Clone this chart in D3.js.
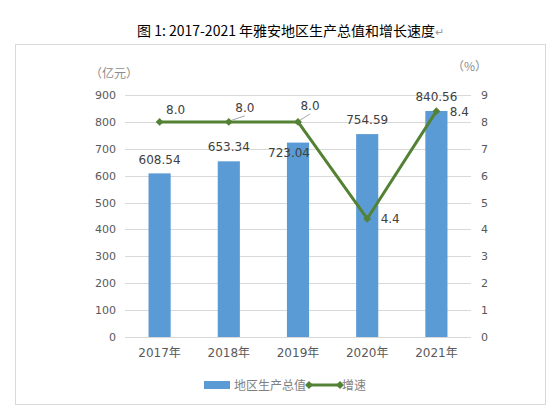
<!DOCTYPE html>
<html>
<head>
<meta charset="utf-8">
<script src="https://cdn.jsdelivr.net/npm/d3@7"></script>
<style>
  body { margin: 0; background: #fff; }
  text { font-family: "DejaVu Sans", "Noto Sans CJK SC", sans-serif; }
</style>
</head>
<body>
<div id="chart-area"></div>
<script>
const years = ["2017年", "2018年", "2019年", "2020年", "2021年"]
const gdp = [608.54, 653.34, 723.04, 754.59, 840.56]
const growth = [8.0, 8.0, 8.0, 4.4, 8.4]
const leftTicks = [0, 100, 200, 300, 400, 500, 600, 700, 800, 900]
const rightTicks = [0, 1, 2, 3, 4, 5, 6, 7, 8, 9]

// label nudges, px (dx, dy from the mark)
const barLabelOffsets = [[0, -9], [0, -10], [-9, 14], [0, -10], [0, -10]]
const lineLabelOffsets = [[16, -8], [16, -10], [12, -12], [23, 4.5], [23, 5]]
const leaderLines = [false, true, true, false, false]

const totalWidth = 557
const totalHeight = 408
const PLOT = {LEFT: 125, RIGHT: 471, TOP: 95, BOTTOM: 337}

const TEXT = "#595959"
const GRID = "#d9d9d9"
const BAR = "#5b9bd5"
const LINE = "#548235"

const svg = d3.select("#chart-area")
    .append("svg")
    .attr("width", totalWidth)
    .attr("height", totalHeight)

// outer frame
svg.append("rect")
    .attr("x", 15.5)
    .attr("y", 44.5)
    .attr("width", 530)
    .attr("height", 360)
    .attr("fill", "none")
    .attr("stroke", GRID)

// title
const title = svg.append("text")
    .attr("x", 137)
    .attr("y", 36)
    .attr("font-size", "14px")
    .attr("fill", "#000")
    .style("font-family", "'Noto Sans CJK SC', sans-serif")
title.append("tspan").text("图 1: 2017-2021 年雅安地区生产总值和增长速度")
title.append("tspan").attr("fill", "#999").attr("font-size", "11px").text("↵")

const xScale = d3.scaleBand()
    .domain(years)
    .range([PLOT.LEFT, PLOT.RIGHT])
    .paddingInner(0.68)
    .paddingOuter(0.34)

const yLeft = d3.scaleLinear()
    .domain([0, 900])
    .range([PLOT.BOTTOM, PLOT.TOP])

const yRight = d3.scaleLinear()
    .domain([0, 9])
    .range([PLOT.BOTTOM, PLOT.TOP])

// gridlines
svg.append("g")
    .selectAll("line")
    .data(leftTicks)
    .join("line")
    .attr("x1", PLOT.LEFT)
    .attr("x2", PLOT.RIGHT)
    .attr("y1", d => Math.round(yLeft(d)) + 0.5)
    .attr("y2", d => Math.round(yLeft(d)) + 0.5)
    .attr("stroke", GRID)
    .attr("stroke-width", 1)

// left axis
const leftAxis = svg.append("g")
    .attr("transform", `translate(${PLOT.LEFT}, 0)`)
    .call(d3.axisLeft(yLeft).tickValues(leftTicks).tickSize(0).tickPadding(9))
leftAxis.select(".domain").remove()
leftAxis.selectAll("text")
    .attr("fill", TEXT)
    .attr("font-size", "11px")
    .style("font-family", "'DejaVu Sans', sans-serif")

// right axis
const rightAxis = svg.append("g")
    .attr("transform", `translate(${PLOT.RIGHT}, 0)`)
    .call(d3.axisRight(yRight).tickValues(rightTicks).tickSize(0).tickPadding(10))
rightAxis.select(".domain").remove()
rightAxis.selectAll("text")
    .attr("fill", TEXT)
    .attr("font-size", "11px")
    .style("font-family", "'DejaVu Sans', sans-serif")

// bottom axis
const bottomAxis = svg.append("g")
    .attr("transform", `translate(0, ${PLOT.BOTTOM})`)
    .call(d3.axisBottom(xScale).tickSize(0).tickPadding(11))
bottomAxis.select(".domain").remove()
bottomAxis.selectAll("text")
    .attr("fill", TEXT)
    .attr("font-size", "12px")

// unit labels
svg.append("text")
    .attr("x", 90)
    .attr("y", 78)
    .attr("font-size", "12px")
    .attr("fill", "#8c8c8c")
    .style("font-family", "'Noto Sans CJK SC', sans-serif")
    .text("（亿元）")

svg.append("text")
    .attr("x", 452)
    .attr("y", 71)
    .attr("font-size", "12px")
    .attr("fill", "#8c8c8c")
    .style("font-family", "'Noto Sans CJK SC', sans-serif")
    .text("（%）")

// bars
svg.append("g")
    .selectAll("rect")
    .data(gdp)
    .join("rect")
    .attr("x", (d, i) => xScale(years[i]))
    .attr("y", d => yLeft(d))
    .attr("width", xScale.bandwidth())
    .attr("height", d => PLOT.BOTTOM - yLeft(d))
    .attr("fill", BAR)

const cx = i => xScale(years[i]) + xScale.bandwidth() / 2

// bar labels
svg.append("g")
    .selectAll("text")
    .data(gdp)
    .join("text")
    .attr("x", (d, i) => cx(i) + barLabelOffsets[i][0])
    .attr("y", (d, i) => yLeft(d) + barLabelOffsets[i][1])
    .attr("text-anchor", "middle")
    .attr("font-size", "12px")
    .attr("fill", "#404040")
    .text(d => d.toFixed(2))

// growth line
const line = d3.line()
    .x((d, i) => cx(i))
    .y(d => yRight(d))

svg.append("path")
    .attr("d", line(growth))
    .attr("fill", "none")
    .attr("stroke", LINE)
    .attr("stroke-width", 3)
    .attr("stroke-linejoin", "round")

// leader lines (drawn under the markers)
svg.append("g")
    .selectAll("line")
    .data(growth.map((d, i) => ({d, i})).filter(o => leaderLines[o.i]))
    .join("line")
    .attr("x1", o => cx(o.i) + 1)
    .attr("y1", o => yRight(o.d) - 1)
    .attr("x2", o => cx(o.i) + lineLabelOffsets[o.i][0])
    .attr("y2", o => yRight(o.d) + lineLabelOffsets[o.i][1] + 4)
    .attr("stroke", "#a6a6a6")
    .attr("stroke-width", 1)

const diamond = d3.symbol().type(d3.symbolDiamond2).size(40)

svg.append("g")
    .selectAll("path")
    .data(growth)
    .join("path")
    .attr("d", diamond)
    .attr("transform", (d, i) => `translate(${cx(i)}, ${yRight(d)})`)
    .attr("fill", LINE)

// growth labels
svg.append("g")
    .selectAll("text")
    .data(growth)
    .join("text")
    .attr("x", (d, i) => cx(i) + lineLabelOffsets[i][0])
    .attr("y", (d, i) => yRight(d) + lineLabelOffsets[i][1])
    .attr("text-anchor", "middle")
    .attr("font-size", "12px")
    .attr("fill", "#404040")
    .text(d => d.toFixed(1))

// legend
const legend = svg.append("g")
    .attr("transform", "translate(204, 385)")

legend.append("rect")
    .attr("x", 0)
    .attr("y", -4)
    .attr("width", 26)
    .attr("height", 8)
    .attr("fill", BAR)

legend.append("text")
    .attr("x", 30)
    .attr("y", 5)
    .attr("font-size", "12px")
    .attr("fill", "#7f7f7f")
    .style("font-family", "'Noto Sans CJK SC', sans-serif")
    .text("地区生产总值")

legend.append("line")
    .attr("x1", 105)
    .attr("x2", 136)
    .attr("y1", 0)
    .attr("y2", 0)
    .attr("stroke", LINE)
    .attr("stroke-width", 3)

legend.selectAll(".legend-marker")
    .data([105, 136])
    .join("path")
    .attr("class", "legend-marker")
    .attr("d", diamond)
    .attr("transform", d => `translate(${d}, 0)`)
    .attr("fill", LINE)

legend.append("text")
    .attr("x", 138)
    .attr("y", 5)
    .attr("font-size", "12px")
    .attr("fill", "#7f7f7f")
    .style("font-family", "'Noto Sans CJK SC', sans-serif")
    .text("增速")
</script>
</body>
</html>
